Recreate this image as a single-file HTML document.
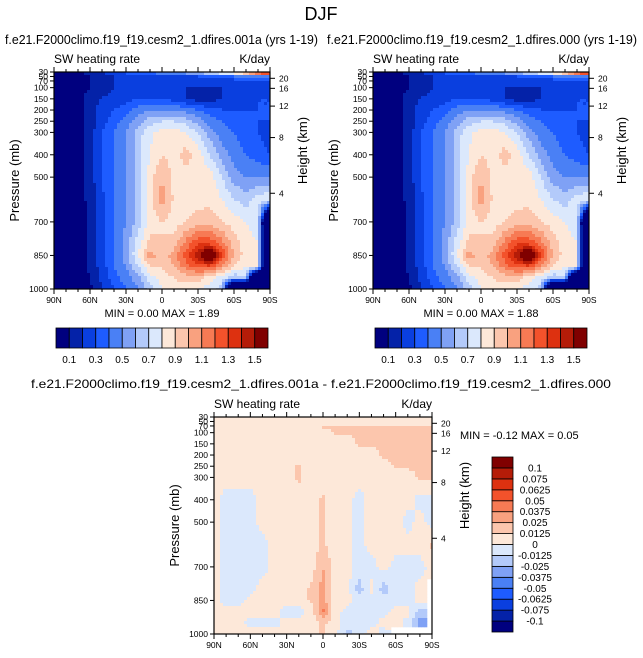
<!DOCTYPE html>
<html><head><meta charset="utf-8">
<style>
body{margin:0;background:#fff;}
svg{display:block;font-family:"Liberation Sans",Arial,sans-serif;}
</style></head>
<body>
<svg id="fig" width="643" height="658" viewBox="0 0 643 658">
<text x="321" y="20" font-size="18" text-anchor="middle">DJF</text>
</svg>
<script>
// ---- data ----
const lats = [90,80,70,60,50,40,30,20,10,0,-10,-20,-30,-40,-50,-60,-70,-80,-90];
const levels = [30,50,70,100,150,200,250,300,400,500,600,700,800,850,900,950,1000];
const heatA = [
[0,0,0.05,0.15,0.2,0.3,0.35,0.4,0.45,0.5,0.55,0.6,0.7,0.8,0.9,1.0,1.2,1.5,1.7],
[0,0,0.05,0.1,0.15,0.2,0.2,0.25,0.25,0.25,0.25,0.3,0.3,0.35,0.35,0.4,0.45,0.5,0.5],
[0,0,0.05,0.1,0.15,0.2,0.2,0.2,0.25,0.25,0.25,0.25,0.25,0.25,0.25,0.25,0.25,0.25,0.25],
[0,0,0.05,0.1,0.15,0.2,0.2,0.2,0.2,0.2,0.2,0.2,0.2,0.2,0.2,0.2,0.25,0.25,0.25],
[0,0,0.05,0.15,0.2,0.25,0.25,0.3,0.3,0.3,0.25,0.2,0.15,0.15,0.2,0.25,0.25,0.3,0.3],
[0,0,0.05,0.15,0.25,0.3,0.35,0.45,0.5,0.5,0.5,0.45,0.4,0.35,0.3,0.3,0.3,0.3,0.3],
[0,0,0.05,0.15,0.25,0.35,0.45,0.55,0.65,0.7,0.7,0.65,0.55,0.45,0.4,0.35,0.3,0.3,0.3],
[0,0,0.05,0.15,0.3,0.4,0.5,0.65,0.78,0.85,0.85,0.8,0.7,0.55,0.45,0.4,0.35,0.3,0.25],
[0,0,0.05,0.15,0.3,0.4,0.5,0.65,0.8,0.9,0.85,0.95,0.85,0.7,0.55,0.45,0.4,0.35,0.3],
[0,0,0.05,0.15,0.3,0.4,0.5,0.65,0.85,1.0,0.88,0.85,0.88,0.85,0.7,0.55,0.5,0.5,0.5],
[0,0,0.05,0.13,0.28,0.4,0.5,0.65,0.85,1.05,0.88,0.85,0.85,0.88,0.8,0.7,0.65,0.75,0.8],
[0,0,0.05,0.12,0.26,0.4,0.5,0.65,0.85,0.9,0.85,0.9,0.95,0.95,0.9,0.85,0.8,0.75,-1],
[0,0,0.04,0.12,0.25,0.4,0.55,0.75,0.95,0.9,0.95,1.15,1.3,1.3,1.15,0.95,0.85,0.8,-1],
[0,0,0.04,0.12,0.25,0.4,0.55,0.8,1.05,0.95,1.05,1.25,1.45,1.85,1.3,1.0,0.85,0.8,-1],
[0,0,0.04,0.12,0.25,0.4,0.5,0.7,0.9,0.9,1.0,1.15,1.25,1.25,1.05,0.9,0.8,0.8,-1],
[0,0,0.04,0.1,0.22,0.35,0.45,0.55,0.75,0.85,0.9,0.95,0.95,0.85,0.75,0.6,0.7,-1,-1],
[0,0,0.04,0.08,0.2,0.3,0.4,0.5,0.65,0.8,0.85,0.85,0.8,0.75,0.65,-1,-1,-1,-1]
];
const heatB = heatA.map(r => r.slice());
const M = -9;
const heatDiff = [
[.005,.005,.005,.005,.005,.005,.005,.005,.005,.005,.005,.005,.005,.005,.005,.005,.005,.005,.005],
[.005,.005,.005,.005,.005,.005,.005,.005,.005,.005,.005,.005,.005,.005,.005,.005,.005,.005,.005],
[.005,.005,.005,.005,.005,.005,.005,.005,.005,.015,.015,.015,.015,.015,.015,.015,.015,.015,.015],
[.005,.005,.005,.005,.005,.005,.005,.005,.005,.005,.015,.015,.015,.015,.015,.015,.015,.015,.015],
[.005,.005,.005,.005,.005,.005,.005,.005,.005,.005,.005,.005,.015,.015,.015,.015,.015,.015,.015],
[.005,.005,.005,.005,.005,.005,.005,.005,.005,.005,.005,.005,.005,.005,.015,.015,.015,.015,.015],
[.005,.005,.005,.005,.005,.005,.005,.015,.005,.005,.005,.005,.005,.005,.005,.015,.015,.015,.015],
[.005,.005,.005,.005,.005,.005,.005,.015,.005,.005,.005,.005,.005,.005,.005,.005,.005,.015,.015],
[.005,-.005,-.005,-.005,.005,.005,.005,.005,.005,.015,.005,.005,-.005,.005,.005,.005,.005,-.005,-.005],
[.005,-.005,-.005,-.005,.005,.005,.005,.005,.005,.015,.005,.005,-.005,.005,.005,.005,-.005,.005,-.005],
[.005,-.005,-.005,-.005,-.005,.005,.005,.005,.005,.015,.005,.005,-.005,.005,.005,.005,.005,.005,.015],
[.005,-.005,-.005,-.005,-.005,.005,.005,.005,.005,.025,.005,.005,-.005,-.005,.005,-.005,-.005,-.005,.005],
[.005,-.005,-.005,-.005,.005,.005,.005,.005,.015,.03,.005,.005,-.02,.005,-.02,-.005,-.005,.005,M],
[.005,-.005,-.005,.005,.005,.005,.005,.005,.015,.03,.005,.005,-.005,-.005,-.005,-.005,-.005,.005,M],
[.005,.005,.005,.005,.005,.005,-.005,-.005,.005,.04,.005,-.005,-.005,-.005,-.005,.005,.005,-.02,M],
[.005,.005,.005,-.005,-.005,-.005,.005,.005,.005,.015,.005,-.005,-.005,-.005,.005,.005,-.005,-.03,M],
[.005,.005,.005,.005,.005,.005,.005,.005,.005,.015,.005,-.02,-.005,.005,-.005,M,M,M,M]
];
const colors = ["#00007f","#0422a8","#0a3fdf","#1e5cff","#4a80f5","#7fa1f5","#b3cafa","#dbe8fc","#fde8d9","#fcc6ad","#f9a17f","#f77a54","#f3522b","#dd3110","#b51c08","#800000"];
const boundsA = [0.1,0.2,0.3,0.4,0.5,0.6,0.7,0.8,0.9,1.0,1.1,1.2,1.3,1.4,1.5];
const labelsA = ["0.1","","0.3","","0.5","","0.7","","0.9","","1.1","","1.3","","1.5"];
const boundsD = [-0.1,-0.075,-0.0625,-0.05,-0.0375,-0.025,-0.0125,0,0.0125,0.025,0.0375,0.05,0.0625,0.075,0.1];
const labelsD = ["-0.1","-0.075","-0.0625","-0.05","-0.0375","-0.025","-0.0125","0","0.0125","0.025","0.0375","0.05","0.0625","0.075","0.1"];
const pTicks = [30,50,70,100,150,200,250,300,400,500,700,850,1000];
const pTickLabels = ["30","50","70","100","150","200","250","300","400","500","700","850","1000"];
const hTicks = [20,16,12,8,4];
const latTicks = [90,60,30,0,-30,-60,-90];
const latTickLabels = ["90N","60N","30N","0","30S","60S","90S"];

// ---- drawing ----
const NS = "http://www.w3.org/2000/svg";
const svg = document.getElementById("fig");
function mk(tag, attrs, parent){const e=document.createElementNS(NS,tag);for(const k in attrs)e.setAttribute(k,attrs[k]);(parent||svg).appendChild(e);return e;}
function binColor(v,b){if(v<-5)return null;let i=0;while(i<b.length&&v>=b[i])i++;return colors[i];}
function heightToP(h){return 1013*Math.exp(-h/7);}

function interp(data,lat,p){
  let c=(90-lat)/10; let c0=Math.min(Math.floor(c),17); let fc=c-c0;
  let r0=0; while(r0<levels.length-2&&p>levels[r0+1])r0++;
  let fr=(p-levels[r0])/(levels[r0+1]-levels[r0]); fr=Math.max(0,Math.min(1,fr));
  const vals=[data[r0][c0],data[r0][c0+1],data[r0+1][c0],data[r0+1][c0+1]];
  const wts=[(1-fc)*(1-fr),fc*(1-fr),(1-fc)*fr,fc*fr];
  let near=0; for(let i=1;i<4;i++) if(wts[i]>wts[near]) near=i;
  if(vals[near]<-5) return -9;
  let s=0,ws=0; for(let i=0;i<4;i++){ if(vals[i]>-5){s+=vals[i]*wts[i];ws+=wts[i];} }
  return s/ws;
}

function panel(name,data,bounds,x0,y0,w,h){
  const g=mk("g",{});
  
  
  const X=lat=>x0+(90-lat)/180*w;
  const Y=p=>y0+(p-30)/970*h;
  const step=3;
  const cells=mk("g",{},g);
  
  
  for(let py=0;py<h;py+=step){
    const p=30+(py+step/2)/h*970;
    for(let px=0;px<w;px+=step){
      const lat=90-(px+step/2)/w*180;
      const col=binColor(interp(data,lat,p),bounds);
      if(!col)continue;
      mk("rect",{x:x0+px,y:y0+py,width:Math.min(step,w-px)+0.3,height:Math.min(step,h-py)+0.3,fill:col},cells);
    }
  }
  const frame=mk("rect",{x:x0,y:y0,width:w,height:h,fill:"none",stroke:"#000","stroke-width":1.2},g);
  
  
  pTicks.forEach((p,i)=>{
    mk("line",{x1:x0-4,x2:x0,y1:Y(p),y2:Y(p),stroke:"#000"},g);
    const t=mk("text",{x:x0-6,y:Y(p)+3,"font-size":8.5,"text-anchor":"end"},g);
    t.textContent=pTickLabels[i];
    
    
  });
  hTicks.forEach(hh=>{
    const y=Y(heightToP(hh));
    mk("line",{x1:x0+w,x2:x0+w+5,y1:y,y2:y,stroke:"#000"},g);
    const t=mk("text",{x:x0+w+9,y:y+3,"font-size":8.5},g);
    t.textContent=String(hh);
    
    
  });
  for(let l=90;l>=-90;l-=10){
    const maj=l%30===0, len=maj?5:3;
    mk("line",{x1:X(l),x2:X(l),y1:y0+h,y2:y0+h+len,stroke:"#000"},g);
    mk("line",{x1:X(l),x2:X(l),y1:y0,y2:y0-len,stroke:"#000"},g);
  }
  latTicks.forEach((l,i)=>{
    const t=mk("text",{x:X(l),y:y0+h+14,"font-size":8.5,"text-anchor":"middle"},g);
    t.textContent=latTickLabels[i];
    
    
  });
  let t=mk("text",{x:x0,y:y0-9,"font-size":12},g); t.textContent="SW heating rate";
   
  t=mk("text",{x:x0+w,y:y0-9,"font-size":12,"text-anchor":"end"},g); t.textContent="K/day";
   
  t=mk("text",{x:0,y:0,"font-size":13,"text-anchor":"middle",transform:`translate(${x0-35},${y0+h/2}) rotate(-90)`},g); t.textContent="Pressure (mb)";
   
  t=mk("text",{x:0,y:0,"font-size":13,"text-anchor":"middle",transform:`translate(${x0+w+37},${y0+h/2-30}) rotate(-90)`},g); t.textContent="Height (km)";
   
}

function hbar(name,x0,y0,w,h){
  const g=mk("g",{});  
  const bw=w/colors.length;
  colors.forEach((c,i)=>{const r=mk("rect",{x:x0+i*bw,y:y0,width:bw,height:h,fill:c,stroke:"#000","stroke-width":0.8},g);
     });
  labelsA.forEach((l,i)=>{ if(!l)return; const t=mk("text",{x:x0+(i+1)*bw,y:y0+h+15,"font-size":10,"text-anchor":"middle"},g); t.textContent=l;
     });
}
function vbar(name,x0,y0,w,h){
  const g=mk("g",{});  
  const bh=h/colors.length;
  colors.forEach((c,i)=>{const r=mk("rect",{x:x0,y:y0+h-(i+1)*bh,width:w,height:bh,fill:c,stroke:"#000","stroke-width":0.8},g);
     });
  labelsD.forEach((l,i)=>{const t=mk("text",{x:x0+w+22,y:y0+h-(i+1)*bh+3.5,"font-size":10,"text-anchor":"middle"},g); t.textContent=l;
     });
}
function txt(name,s,x,y,fs,anchor,len){const a={x:x,y:y,"font-size":fs,"text-anchor":anchor||"start"};
  if(len){a.textLength=len;a.lengthAdjust="spacingAndGlyphs";}
  const t=mk("text",a);t.textContent=s;
   }

txt("left-panel-title","f.e21.F2000climo.f19_f19.cesm2_1.dfires.001a (yrs 1-19)",5,44,13,"start",313);
txt("right-panel-title","f.e21.F2000climo.f19_f19.cesm2_1.dfires.000 (yrs 1-19)",327,44,13,"start",310);
panel("left-panel",heatA,boundsA,54,72,216,217);
panel("right-panel",heatB,boundsA,373,72,216,217);
txt("left-minmax","MIN =   0.00  MAX =    1.89",162,317,11,"middle");
txt("right-minmax","MIN =   0.00  MAX =    1.88",481,317,11,"middle");
hbar("left-colorbar",56,328,212,20);
hbar("right-colorbar",375,328,212,20);
txt("diff-panel-title","f.e21.F2000climo.f19_f19.cesm2_1.dfires.001a - f.e21.F2000climo.f19_f19.cesm2_1.dfires.000",321,388,12,"middle",580);
panel("diff-panel",heatDiff,boundsD,214,417,218,217);
txt("diff-minmax","MIN =  -0.12  MAX =    0.05",460,439,11);
vbar("diff-colorbar",492,457,21,175);
</script>
</body></html>
